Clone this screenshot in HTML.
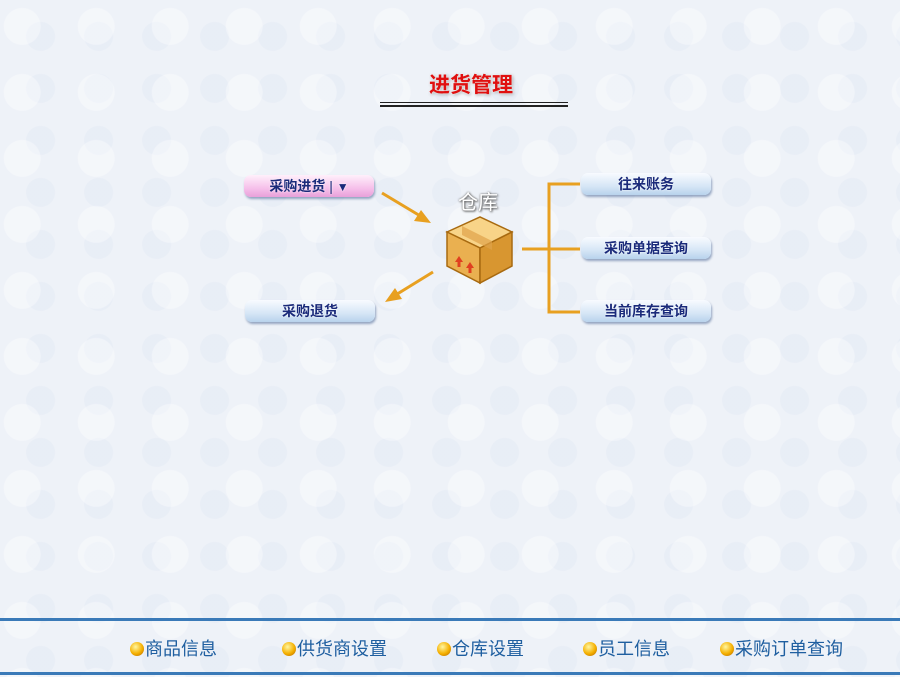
<!DOCTYPE html>
<html><head><meta charset="utf-8"><style>
body{margin:0;width:900px;height:677px;overflow:hidden;position:relative;font-family:"Liberation Sans","Noto Sans CJK SC",sans-serif;
background:#eef2f8;
background-image:radial-gradient(circle at 30% 40%,rgba(255,255,255,.35) 0 18px,transparent 19px),radial-gradient(circle at 70% 70%,rgba(215,225,240,.25) 0 14px,transparent 15px);
background-size:74px 66px,58px 52px;}
.abs{position:absolute}
.btn{position:absolute;width:130px;height:22px;border-radius:7px;background:linear-gradient(#f8fbff,#d6e6f6 60%,#b8d2ec);box-shadow:1px 2px 2px rgba(60,90,140,.5);color:#1a2a7a;font-weight:bold;font-size:14px;line-height:22px;text-align:center;text-shadow:0 0 2px #fff}
.pink{background:linear-gradient(#fff0fb,#f6c0ea 60%,#e8a0da)}
.foot{position:absolute;top:638px;font-size:18px;color:#1f5fa0;line-height:22px}
.orb{display:inline-block;width:14px;height:14px;border-radius:50%;background:radial-gradient(circle at 40% 35%,#fff6a0,#f5b000 55%,#b06000);vertical-align:-1px;margin-right:1px}
</style></head><body>
<div class="abs" style="left:375px;top:69px;width:192px;text-align:center;font-size:21px;font-weight:bold;color:#e01010;text-shadow:0 0 2px #fff,1px 1px 3px #999">进货管理</div>
<div class="abs" style="left:380px;top:102px;width:188px;height:1px;background:#222"></div>
<div class="abs" style="left:380px;top:105px;width:188px;height:2px;background:#222"></div>

<div class="btn pink" style="left:244px;top:175px">采购进货 <span style="font-weight:normal">|</span> <span style="font-size:12px">▼</span></div>
<div class="btn" style="left:245px;top:300px">采购退货</div>
<div class="btn" style="left:581px;top:173px">往来账务</div>
<div class="btn" style="left:581px;top:237px">采购单据查询</div>
<div class="btn" style="left:581px;top:300px">当前库存查询</div>

<div class="abs" style="left:458px;top:186px;font-size:20px;color:#fff;text-shadow:0 0 2px #666,1px 1px 2px #555">仓库</div>

<svg class="abs" style="left:0;top:0" width="900" height="677">
<g stroke="#e8a020" stroke-width="3" fill="none">
<line x1="382" y1="193" x2="422" y2="217"/>
<line x1="433" y1="272" x2="394" y2="296"/>
<polyline points="580,184 549,184 549,312 580,312"/>
<line x1="522" y1="249" x2="580" y2="249"/>
</g>
<polygon points="431,223 414,221 421,210" fill="#e8a020"/>
<polygon points="385,302 395,288 402,299" fill="#e8a020"/>
<g stroke="#a86a10" stroke-width="1.5">
<polygon points="447,232 480,217 512,232 480,248" fill="#f8d488"/>
<polygon points="447,232 480,248 480,283 447,266" fill="#eab050"/>
<polygon points="480,248 512,232 512,266 480,283" fill="#d89630"/>
</g>
<polygon points="462,226 492,241 492,250 462,235" fill="#e0a24a" opacity=".7"/>
<polygon points="455,262 459,256 463,262" fill="#e04020"/><rect x="457.5" y="262" width="3" height="5" fill="#e04020"/>
<polygon points="466,268 470,262 474,268" fill="#e04020"/><rect x="468.5" y="268" width="3" height="5" fill="#e04020"/>
<rect x="0" y="618" width="900" height="3" fill="#3a7ab8"/>
<rect x="0" y="672" width="900" height="3" fill="#3a7ab8"/>
</svg>

<div class="foot" style="left:130px"><span class="orb"></span>商品信息</div>
<div class="foot" style="left:282px"><span class="orb"></span>供货商设置</div>
<div class="foot" style="left:437px"><span class="orb"></span>仓库设置</div>
<div class="foot" style="left:583px"><span class="orb"></span>员工信息</div>
<div class="foot" style="left:720px"><span class="orb"></span>采购订单查询</div>
</body></html>
